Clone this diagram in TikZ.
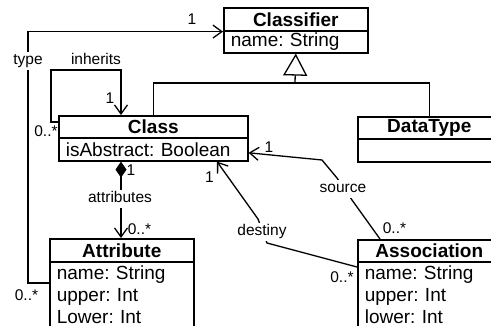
\documentclass[tikz,border=0pt]{standalone}
\usepackage{fontspec}
\setmainfont{Liberation Sans}
\usetikzlibrary{arrows.meta}
\frenchspacing
\begin{document}
\begin{tikzpicture}[x=1pt,y=-1pt,
  box/.style={draw, line width=1.6pt, inner sep=0pt, anchor=north west},
  hd/.style={box, font=\fontsize{19}{22}\selectfont\bfseries},
  bd/.style={box, font=\fontsize{19}{22}\selectfont, align=left, inner xsep=7pt},
  conn/.style={line width=1.3pt},
  nav/.style={conn, -{Straight Barb[length=9pt,width=13pt,line width=1.3pt]}},
  lbl/.style={font=\fontsize{15.5}{18}\selectfont, inner sep=0.5pt},
  rl/.style={lbl, fill=white, text height=11pt, text depth=4pt, inner xsep=2pt, inner ysep=1.5pt},
  gen/.style={conn, -{Triangle[open, length=22pt, width=24pt, line width=1.3pt, fill=white]}}
]
\useasboundingbox (0,0) rectangle (491,326);
\clip (0,0) rectangle (491,326);
% classes
\node[hd, minimum width=144pt, minimum height=23pt] (clsfH) at (223,7) {Classifier};
\node[bd, minimum width=144pt, minimum height=22pt, text width=130pt] (clsfB) at (223,30) {name: String};
\node[hd, minimum width=189pt, minimum height=22pt] (classH) at (58,115) {Class};
\node[bd, minimum width=189pt, minimum height=23pt, text width=175pt] (classB) at (58,137) {isAbstract: Boolean};
\node[hd, minimum width=143pt, minimum height=22pt] (dtH) at (357,116) {DataType};
\node[bd, minimum width=143pt, minimum height=23pt, text width=129pt] (dtB) at (357,138) {};
\node[hd, minimum width=144pt, minimum height=23pt] (attrH) at (49,238) {Attribute};
\node[bd, minimum width=144pt, text width=130pt, inner ysep=3.5pt] (attrB) at (49,261) {name: String\\upper: Int\\Lower: Int};
\node[hd, minimum width=143pt, minimum height=22pt] (assoH) at (357,239) {Association};
\node[bd, minimum width=143pt, text width=129pt, inner ysep=3.5pt] (assoB) at (357,261) {name: String\\upper: Int\\lower: Int};
% generalization
\coordinate (gj) at (295,83);
\draw[conn] (classH.north) |- (gj) -| (dtH.north);
\draw[gen] (gj) -- (clsfB.south);
% type
\coordinate (tcol) at (28,150);
\draw[nav] ([yshift=-22pt]attrB.north west) -| (tcol) |- (clsfH.south west);
\node[rl] (ltype) at (28,61.5) {type};
\node[lbl] (m1) at (192,19) {1};
\node[lbl] (m6) at (26.5,295) {0..*};
% inherits
\coordinate (ia) at (51,70);
\draw[nav] ([yshift=-7pt]classH.north west) -| (ia) -| ([xshift=63pt]classH.north west);
\node[lbl] (linh) at (96,59) {inherits};
\node[lbl] (m2) at (110,98) {1};
\node[lbl] (m3) at (46,131.5) {0..*};
% composition
\draw[conn, {Diamond[length=16pt,width=11pt]}-{Straight Barb[length=9pt,width=13pt,line width=1.3pt]}] ([xshift=63pt]classB.south west) -- ([xshift=72pt]attrH.north west);
\node[rl] (lattr) at (120,199.5) {attributes};
\node[lbl] (m4) at (131,170) {1};
\node[lbl] (m5) at (139.5,229) {0..*};
% source
\coordinate (s1) at (352,200);
\coordinate (s2) at (337,178);
\coordinate (s3) at (322,160);
\draw[nav] ([xshift=23pt]assoH.north west) -- (s1) -- (s2) -- (s3) -- ([yshift=-3.5pt]classB.east);
\node[rl] (lsrc) at (343,189) {source};
\node[lbl] (m7) at (269,147) {1};
\node[lbl] (m8) at (394.5,228) {0..*};
% destiny
\coordinate (d1) at (267,243);
\coordinate (d2) at (258,219);
\draw[nav] ([yshift=-6pt]assoB.north west) -- (d1) -- (d2) -- ([xshift=159pt]classB.south west);
\node[rl] (ldest) at (262,232.5) {destiny};
\node[lbl] (m9) at (209.5,177) {1};
\node[lbl] (m10) at (342,277) {0..*};
\end{tikzpicture}
\end{document}
